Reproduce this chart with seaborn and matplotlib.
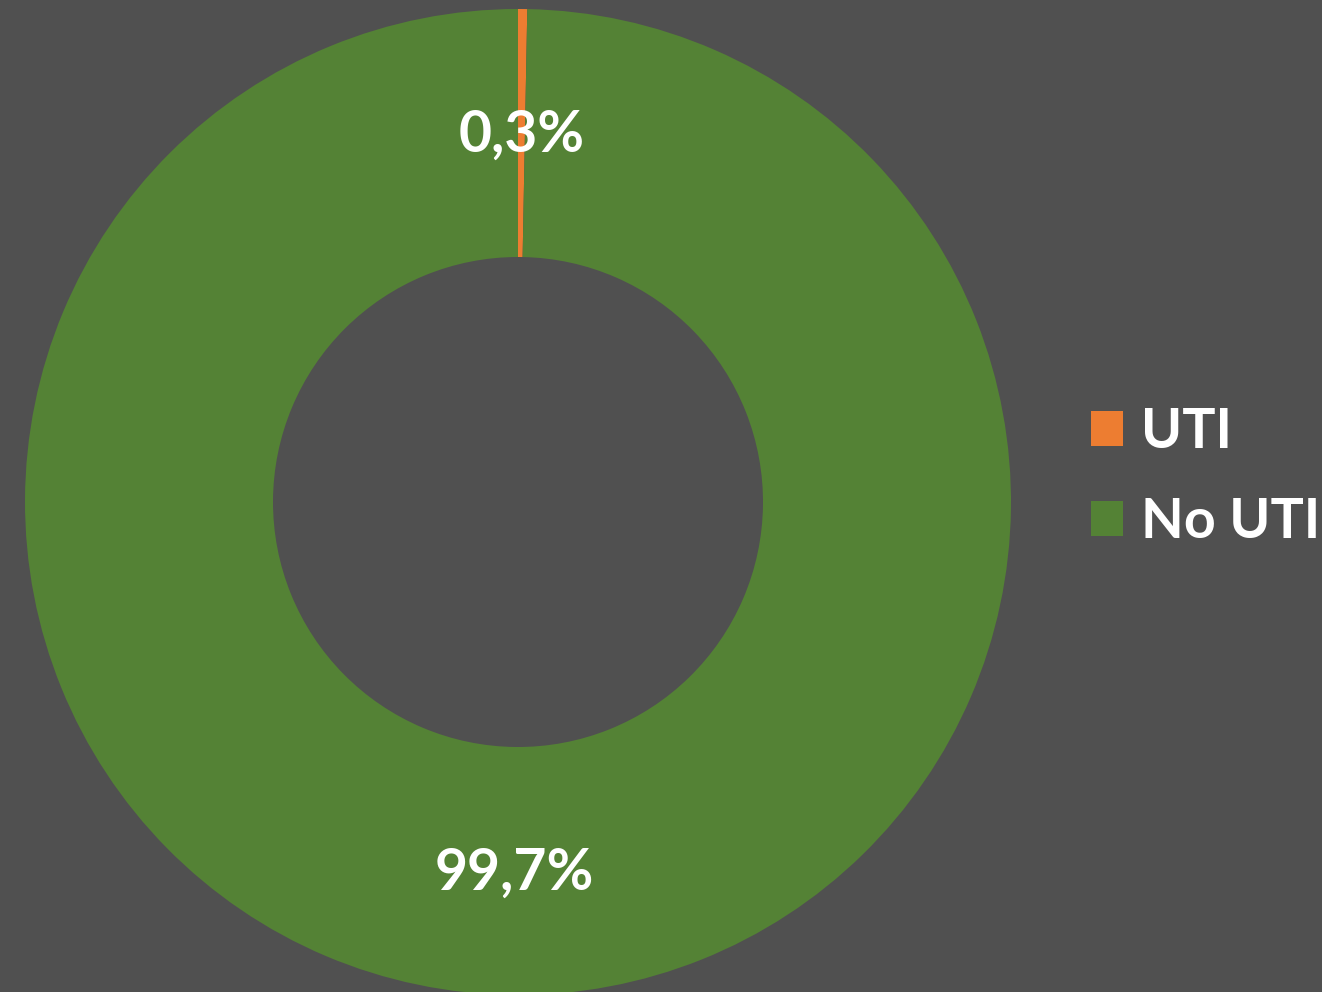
import matplotlib
matplotlib.use("Agg")
import matplotlib.pyplot as plt
import seaborn as sns
import numpy as np
from matplotlib.patches import Patch

categories = ["UTI", "No UTI"]
values = [0.3, 99.7]
value_labels = ["0,3%", "99,7%"]

sns.set_theme(style="dark")
plt.rcParams['font.family'] = ['Lato', 'DejaVu Sans']

bg = "#505050"
colors = ["#ED7D31", "#548235"]

W, H = 1322, 992
fig = plt.figure(figsize=(W / 100, H / 100), dpi=100, facecolor=bg)
cx, cy, r = 518, 992 - 502, 493
ax = fig.add_axes([(cx - r) / W, (cy - r) / H, 2 * r / W, 2 * r / H])
ax.set_facecolor(bg)

hole = 245 / 493
wedges, _ = ax.pie(values, colors=colors, startangle=90, counterclock=False,
                   radius=1.0, wedgeprops=dict(width=1 - hole, linewidth=0))
ax.set_xlim(-1, 1)
ax.set_ylim(-1, 1)
ax.set_aspect("equal")
ax.axis("off")

mid_r = (1 + hole) / 2
for w, lab in zip(wedges, value_labels):
    ang = np.deg2rad((w.theta1 + w.theta2) / 2)
    ax.text(mid_r * np.cos(ang), mid_r * np.sin(ang) - 0.005, lab, color="white",
            fontsize=41, fontweight="bold", ha="center", va="center")

handles = [Patch(facecolor=c, edgecolor="none") for c in colors]
leg = fig.legend(handles, categories, loc="center left",
                 bbox_to_anchor=(1091 / W, 1 - 477 / H), frameon=False,
                 prop=dict(size=40, weight="bold"),
                 handlelength=0.58, handleheight=0.58, borderpad=0,
                 handletextpad=0.32, labelspacing=0.72, borderaxespad=0)
for t in leg.get_texts():
    t.set_color("white")

fig.savefig("out.png", dpi=100, facecolor=bg)
